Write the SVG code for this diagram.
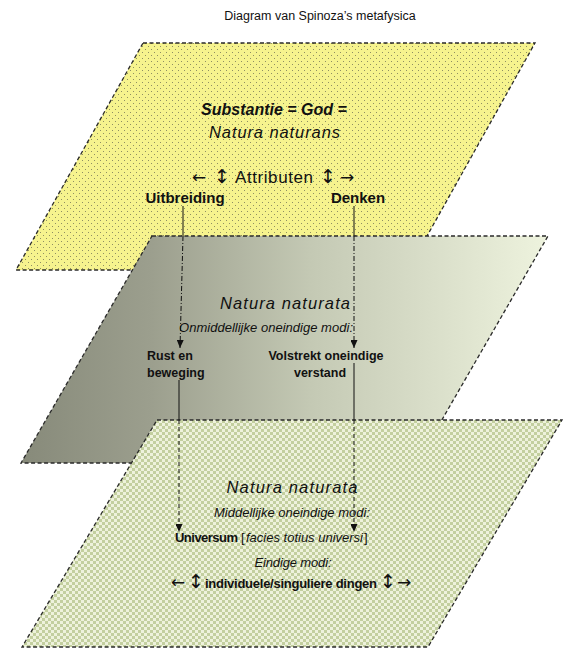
<svg xmlns="http://www.w3.org/2000/svg" width="580" height="668" viewBox="0 0 580 668">
<style>
.t{font-family:"Liberation Sans",Arial,sans-serif;fill:#111}
.b{font-weight:bold}
.i{font-style:italic}
.ar{font-family:"DejaVu Sans",sans-serif;font-weight:normal;font-style:normal}
.plane{stroke:#2a2a2a;stroke-width:1.3;stroke-dasharray:4 2.5}
.solid{stroke:#111;stroke-width:1;fill:none}
.dashdot{stroke:#111;stroke-width:1;fill:none;stroke-dasharray:5 2 1 2}
.dash{stroke:#111;stroke-width:1;fill:none;stroke-dasharray:4 3}
</style>
<defs>
<pattern id="dots" width="6" height="6" patternUnits="userSpaceOnUse">
<rect width="6" height="6" fill="#f6f38e"/>
<rect x="1" y="1" width="1" height="1" fill="#8f8f62"/>
<rect x="4" y="4" width="1" height="1" fill="#8f8f62"/>
</pattern>
<linearGradient id="grayg" x1="0" y1="0" x2="1" y2="0">
<stop offset="0" stop-color="#878a7a"/>
<stop offset="0.25" stop-color="#9c9f8e"/>
<stop offset="0.55" stop-color="#c4c9b4"/>
<stop offset="1" stop-color="#eef3de"/>
</linearGradient>
<pattern id="check" width="6" height="6" patternUnits="userSpaceOnUse">
<rect width="6" height="6" fill="#eef2dc"/>
<rect x="0" y="0" width="3" height="3" fill="#c3cf9f"/>
<rect x="3" y="3" width="3" height="3" fill="#c3cf9f"/>
</pattern>
<marker id="ah" markerWidth="8" markerHeight="7" refX="8" refY="3.5" orient="auto" markerUnits="userSpaceOnUse" viewBox="0 0 8 7">
<path d="M0,0 L8,3.5 L0,7 z" fill="#111"/>
</marker>
</defs>
<rect width="580" height="668" fill="#ffffff"/>
<text id="title" class="t" x="320" y="20" font-size="12.5" text-anchor="middle" fill="#222">Diagram van Spinoza’s metafysica</text>

<g id="substantie">
<polygon class="plane" points="143,43 535,43 408,270 16,270" fill="url(#dots)"/>
<text class="t b i" x="274" y="115" font-size="16" text-anchor="middle">Substantie = God =</text>
<text class="t i" x="274.5" y="138" font-size="16.5" text-anchor="middle" textLength="131">Natura naturans</text>
<text class="t" y="183" font-size="17"><tspan class="ar" x="192" font-size="17">←</tspan><tspan class="ar" x="214" font-size="19">↕</tspan><tspan x="235" textLength="78">Attributen</tspan><tspan class="ar" x="320" font-size="19">↕</tspan><tspan class="ar" x="340" font-size="17">→</tspan></text>
<text class="t b" x="185" y="203" font-size="15" text-anchor="middle">Uitbreiding</text>
<text class="t b" x="358" y="203" font-size="15" text-anchor="middle">Denken</text>
</g>

<g id="natura-naturata-onmiddellijk">
<polygon class="plane" points="152,236 548,236 417,463 21,463" fill="url(#grayg)"/>
<text class="t i" x="285" y="309" font-size="16.5" text-anchor="middle" textLength="130">Natura naturata</text>
<text class="t i" x="266" y="332" font-size="13" text-anchor="middle" textLength="174">Onmiddellijke oneindige modi:</text>
<text class="t b" x="147" y="360" font-size="12.5">Rust en</text>
<text class="t b" x="147" y="377" font-size="12.5">beweging</text>
<text class="t b" x="326" y="360" font-size="12.5" text-anchor="middle">Volstrekt oneindige</text>
<text class="t b" x="320" y="377" font-size="12.5" text-anchor="middle">verstand</text>
</g>

<g id="natura-naturata-middellijk">
<polygon class="plane" points="157,420 562,420 428,647 22,647" fill="url(#check)"/>
<text class="t i" x="292" y="493" font-size="16.5" text-anchor="middle" textLength="131">Natura naturata</text>
<text class="t i" x="292" y="517" font-size="13" text-anchor="middle" textLength="156">Middellijke oneindige modi:</text>
<text class="t" y="542" font-size="13"><tspan class="b" x="175" textLength="63">Universum</tspan><tspan x="241">[</tspan><tspan class="i" x="246" textLength="117">facies totius universi</tspan><tspan x="364">]</tspan></text>
<text class="t i" x="293" y="567" font-size="13" text-anchor="middle" textLength="77">Eindige modi:</text>
<text class="t" y="588" font-size="16"><tspan class="ar" x="171" font-size="17">←</tspan><tspan class="ar" x="188" font-size="19">↕</tspan><tspan class="b" x="205" font-size="13" textLength="172">individuele/singuliere dingen</tspan><tspan class="ar" x="380" font-size="19">↕</tspan><tspan class="ar" x="397" font-size="17">→</tspan></text>
</g>

<g id="connectors">
<line class="solid" x1="183" y1="206" x2="183" y2="236"/>
<line class="dashdot" x1="183" y1="236" x2="180" y2="348" marker-end="url(#ah)"/>
<line class="solid" x1="354" y1="206" x2="354" y2="236"/>
<line class="dashdot" x1="354" y1="236" x2="354" y2="348" marker-end="url(#ah)"/>
<line class="solid" x1="179" y1="380" x2="179" y2="420"/>
<line class="dash" x1="179" y1="420" x2="179" y2="532" marker-end="url(#ah)"/>
<line class="solid" x1="354" y1="363" x2="354" y2="420"/>
<line class="dash" x1="354" y1="420" x2="354" y2="532" marker-end="url(#ah)"/>
</g>
</svg>
